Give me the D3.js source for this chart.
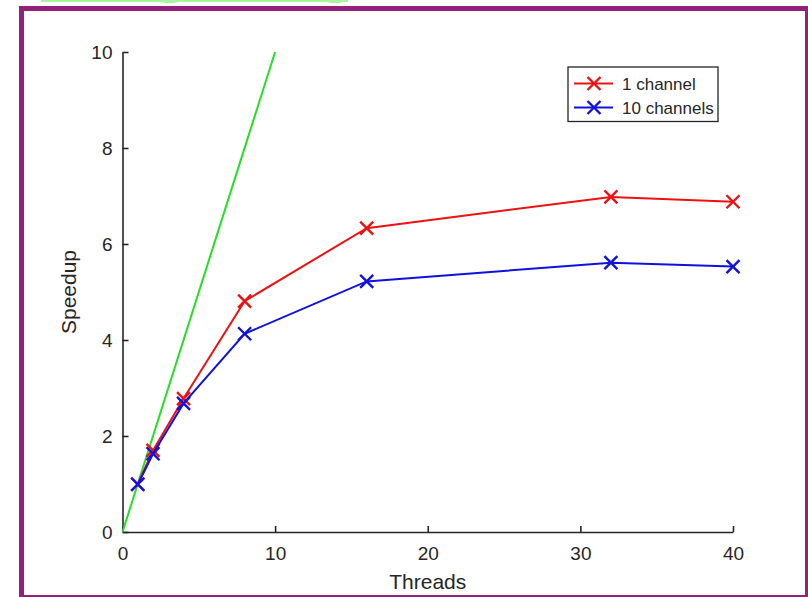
<!DOCTYPE html>
<html>
<head>
<meta charset="utf-8">
<script src="https://cdn.jsdelivr.net/npm/d3@7"></script>
<style>
html,body{margin:0;padding:0;background:#fff;}
svg{display:block;}
text{font-family:"Liberation Sans",Arial,Helvetica,sans-serif;fill:#262626;}
</style>
</head>
<body>
<svg id="chart" width="808" height="597"></svg>
<script>
const threads = [1, 2, 4, 8, 16, 32, 40];
const oneChannel = [1.0, 1.7, 2.78, 4.81, 6.33, 6.98, 6.88];
const tenChannels = [0.99, 1.63, 2.68, 4.13, 5.22, 5.61, 5.53];
const idealX = [0, 10];
const idealY = [0, 10];
const xTicks = [0, 10, 20, 30, 40];
const yTicks = [0, 2, 4, 6, 8, 10];
const seriesNames = ["1 channel", "10 channels"];

const svg = d3.select("#chart");
const W = 808, H = 597;
const m = {left: 122.5, right: 808 - 733, top: 52, bottom: 597 - 532};

const x = d3.scaleLinear().domain([0, 40]).range([m.left, W - m.right]);
const y = d3.scaleLinear().domain([0, 10]).range([H - m.bottom, m.top]);

// decorative frame
svg.append("rect").attr("x", 41).attr("y", -1).attr("width", 307).attr("height", 3)
  .attr("fill", "#a8f5a0");
svg.append("ellipse").attr("cx", 170).attr("cy", 1).attr("rx", 9).attr("ry", 2).attr("fill", "#a8f5a0");
svg.append("ellipse").attr("cx", 335).attr("cy", 1).attr("rx", 9).attr("ry", 2).attr("fill", "#a8f5a0");
svg.append("rect").attr("x", 21.5).attr("y", 8.5).attr("width", 786).attr("height", 589)
  .attr("fill", "none").attr("stroke", "#93217a").attr("stroke-width", 5);

// axes
const xAxis = d3.axisBottom(x).tickValues(xTicks).tickSizeInner(-6).tickSizeOuter(0).tickPadding(15);
const yAxis = d3.axisLeft(y).tickValues(yTicks).tickSizeInner(-6).tickSizeOuter(0).tickPadding(10);

const gx = svg.append("g").attr("transform", `translate(0,${y(0)})`).call(xAxis);
const gy = svg.append("g").attr("transform", `translate(${x(0)},0)`).call(yAxis);
[gx, gy].forEach(g => {
  g.select(".domain").attr("stroke", "#262626").attr("stroke-width", 1.6);
  g.selectAll(".tick line").attr("stroke", "#262626").attr("stroke-width", 1.6);
  g.selectAll(".tick text").attr("font-size", 19).attr("fill", "#262626")
    .attr("font-family", "Liberation Sans, Arial, sans-serif");
});

svg.append("text").attr("x", (x(0) + x(40)) / 2).attr("y", 589).attr("text-anchor", "middle")
  .attr("font-size", 21).text("Threads");
svg.append("text").attr("transform", `translate(76,${(y(0) + y(10)) / 2}) rotate(-90)`)
  .attr("text-anchor", "middle").attr("font-size", 21).text("Speedup");

// ideal line
svg.append("path").datum(idealX.map((d, i) => [d, idealY[i]]))
  .attr("d", d3.line().x(d => x(d[0])).y(d => y(d[1])))
  .attr("fill", "none").attr("stroke", "#22e022").attr("stroke-width", 2);

const colors = ["#ee1111", "#1111dd"];
const data = [oneChannel, tenChannels];
const line = d3.line().x(d => x(d[0])).y(d => y(d[1]));
const ms = 6.5;
function cross(g, cx, cy, col) {
  g.append("path")
    .attr("d", `M${cx - ms},${cy - ms}L${cx + ms},${cy + ms}M${cx - ms},${cy + ms}L${cx + ms},${cy - ms}`)
    .attr("stroke", col).attr("stroke-width", 2.4).attr("fill", "none");
}
data.forEach((vals, si) => {
  const pts = threads.map((t, i) => [t, vals[i]]);
  const g = svg.append("g");
  g.append("path").datum(pts).attr("d", line).attr("fill", "none")
    .attr("stroke", colors[si]).attr("stroke-width", 2);
  pts.forEach(p => cross(g, x(p[0]), y(p[1]), colors[si]));
});

// legend
const lg = svg.append("g");
lg.append("rect").attr("x", 568).attr("y", 67).attr("width", 150).attr("height", 54.5)
  .attr("fill", "#fff").attr("stroke", "#262626").attr("stroke-width", 1.3);
seriesNames.forEach((name, i) => {
  const yy = 83.5 + i * 24;
  lg.append("line").attr("x1", 574).attr("x2", 613).attr("y1", yy).attr("y2", yy)
    .attr("stroke", colors[i]).attr("stroke-width", 2);
  cross(lg, 594, yy, colors[i]);
  lg.append("text").attr("x", 622).attr("y", yy + 6).attr("font-size", 17).text(name);
});
</script>
</body>
</html>
